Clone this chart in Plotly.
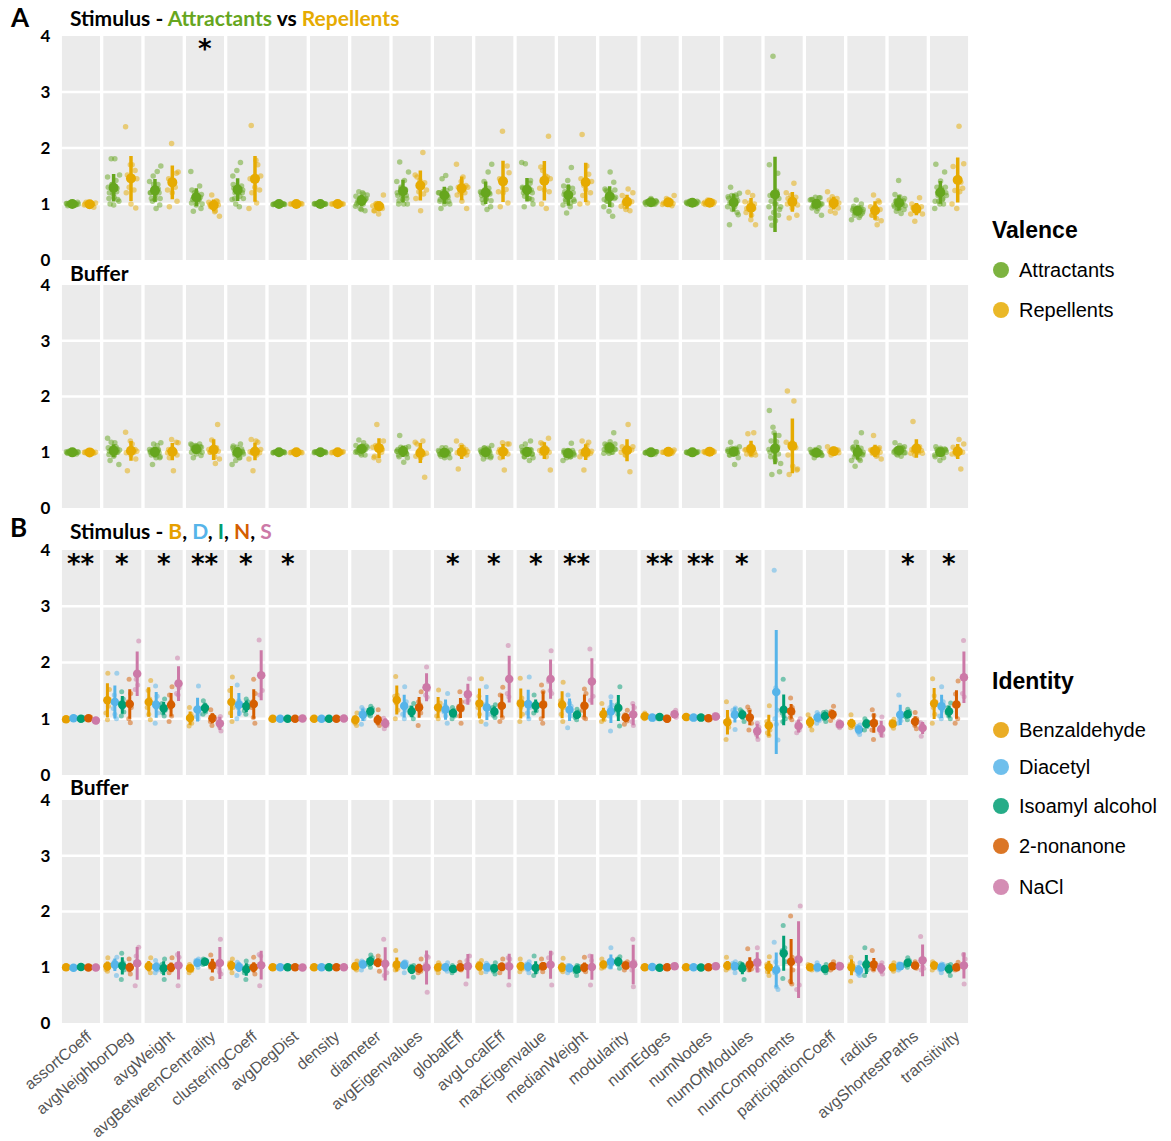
import numpy as np
import plotly.graph_objects as go

# ---------------------------------------------------------------------------
# Data: network metrics normalised to baseline, per animal
# ---------------------------------------------------------------------------
METRICS = [
    "assortCoeff", "avgNeighborDeg", "avgWeight", "avgBetweenCentrality",
    "clusteringCoeff", "avgDegDist", "density", "diameter", "avgEigenvalues",
    "globalEff", "avgLocalEff", "maxEigenvalue", "medianWeight", "modularity",
    "numEdges", "numNodes", "numOfModules", "numComponents",
    "participationCoeff", "radius", "avgShortestPaths", "transitivity",
]

IDENTITIES = ["Benzaldehyde", "Diacetyl", "Isoamyl alcohol", "2-nonanone", "NaCl"]
IDENTITY_COLORS = ["#E69F00", "#56B4E9", "#009E73", "#D55E00", "#CC79A7"]

VALENCES = ["Attractants", "Repellents"]
VALENCE_COLORS = ["#66A61E", "#E6AB02"]
VALENCE_MEMBERS = [[0, 1, 2], [3, 4]]

# Stimulus condition
stim_benzaldehyde = [
    [0.97, 0.98, 0.99, 1.0, 1.0, 1.01], [0.98, 1.1, 1.22, 1.35, 1.52, 1.81],
    [0.98, 1.08, 1.2, 1.35, 1.5, 1.68], [0.87, 0.92, 0.98, 1.02, 1.08, 1.2],
    [0.95, 1.1, 1.2, 1.3, 1.5, 1.74], [0.99, 1.0, 1.0, 1.0, 1.01, 1.0],
    [0.99, 1.0, 1.0, 1.01, 1.0, 1.0], [0.88, 0.92, 0.96, 1.0, 1.02, 1.1],
    [1.0, 1.15, 1.28, 1.4, 1.42, 1.75], [1.0, 1.05, 1.15, 1.22, 1.28, 1.51],
    [0.95, 1.08, 1.2, 1.28, 1.4, 1.71], [0.95, 1.08, 1.2, 1.3, 1.37, 1.72],
    [0.95, 1.08, 1.2, 1.3, 1.32, 1.65], [0.95, 0.98, 1.05, 1.1, 1.13, 1.27],
    [1.0, 1.02, 1.03, 1.05, 1.06, 1.1], [1.0, 1.01, 1.03, 1.04, 1.05, 1.05],
    [0.63, 0.85, 0.9, 0.95, 1.0, 1.3], [0.7, 0.75, 0.8, 0.85, 0.95, 1.23],
    [0.8, 0.87, 0.93, 0.97, 1.0, 1.07], [0.84, 0.86, 0.9, 0.92, 0.93, 1.07],
    [0.83, 0.87, 0.9, 0.92, 0.95, 0.99], [0.92, 1.08, 1.2, 1.3, 1.41, 1.71],
]
stim_diacetyl = [
    [0.99, 1.0, 1.01, 1.01, 1.02, 1.03], [1.0, 1.08, 1.18, 1.3, 1.42, 1.81],
    [0.92, 1.1, 1.2, 1.28, 1.4, 1.58], [1.0, 1.04, 1.08, 1.12, 1.16, 1.58],
    [1.0, 1.1, 1.2, 1.28, 1.32, 1.6], [1.0, 1.0, 0.99, 1.01, 1.0, 1.0],
    [1.0, 0.99, 1.0, 1.0, 1.01, 1.0], [0.9, 1.0, 1.06, 1.1, 1.16, 1.2],
    [1.0, 1.08, 1.15, 1.25, 1.3, 1.57], [0.92, 1.05, 1.12, 1.2, 1.24, 1.45],
    [0.9, 1.08, 1.18, 1.25, 1.22, 1.57], [1.0, 1.1, 1.2, 1.25, 1.27, 1.74],
    [0.84, 1.05, 1.15, 1.22, 1.28, 1.42], [0.78, 1.05, 1.12, 1.2, 1.24, 1.39],
    [0.99, 1.0, 1.02, 1.03, 1.04, 1.04], [1.0, 1.01, 1.02, 1.02, 1.03, 1.04],
    [0.81, 1.05, 1.1, 1.12, 1.15, 1.19], [0.62, 0.9, 1.0, 1.15, 1.55, 3.64],
    [0.92, 0.97, 1.0, 1.04, 1.08, 1.11], [0.72, 0.76, 0.8, 0.83, 0.86, 0.89],
    [0.92, 0.97, 1.0, 1.05, 1.06, 1.42], [1.0, 1.05, 1.15, 1.25, 1.3, 1.57],
]
stim_isoamyl = [
    [0.98, 0.99, 1.0, 1.0, 1.01, 1.02], [1.05, 1.12, 1.2, 1.28, 1.35, 1.48],
    [1.05, 1.1, 1.15, 1.2, 1.27, 1.35], [1.08, 1.12, 1.17, 1.2, 1.25, 1.32],
    [1.08, 1.14, 1.2, 1.25, 1.3, 1.35], [1.0, 0.99, 1.0, 1.01, 1.0, 1.0],
    [1.0, 1.0, 1.01, 0.99, 1.0, 1.0], [1.05, 1.08, 1.12, 1.14, 1.18, 1.22],
    [1.0, 1.06, 1.1, 1.15, 1.2, 1.27], [1.0, 1.05, 1.08, 1.12, 1.15, 1.2],
    [1.02, 1.06, 1.1, 1.15, 1.2, 1.25], [1.1, 1.14, 1.2, 1.24, 1.28, 1.42],
    [0.98, 1.02, 1.05, 1.08, 1.12, 1.17], [0.87, 1.08, 1.15, 1.22, 1.25, 1.57],
    [1.0, 1.01, 1.03, 1.04, 1.05, 1.05], [1.0, 1.01, 1.02, 1.02, 1.03, 1.04],
    [0.95, 1.02, 1.06, 1.1, 1.13, 1.16], [0.95, 1.0, 1.05, 1.1, 1.15, 1.7],
    [0.95, 1.0, 1.04, 1.08, 1.11, 1.12], [0.8, 0.86, 0.9, 0.94, 0.96, 1.0],
    [0.98, 1.03, 1.07, 1.1, 1.13, 1.17], [1.0, 1.05, 1.1, 1.15, 1.2, 1.28],
]
stim_nonanone = [
    [0.99, 1.0, 1.0, 1.01, 1.02, 1.02, 1.03], [0.93, 1.0, 1.2, 1.25, 1.3, 1.45, 1.7],
    [0.95, 1.05, 1.2, 1.25, 1.3, 1.42, 1.57], [0.88, 0.95, 0.98, 1.0, 1.03, 1.06, 1.16],
    [0.92, 1.02, 1.2, 1.25, 1.3, 1.45, 1.7], [0.99, 1.0, 1.0, 1.0, 1.01, 1.0, 1.0],
    [1.0, 0.99, 1.0, 1.0, 1.01, 1.0, 1.0], [0.88, 0.92, 0.96, 0.97, 0.98, 1.0, 1.16],
    [0.88, 1.1, 1.18, 1.22, 1.25, 1.3, 1.48], [0.92, 1.05, 1.16, 1.2, 1.22, 1.3, 1.48],
    [0.95, 1.02, 1.2, 1.22, 1.26, 1.42, 1.56], [0.92, 1.0, 1.22, 1.25, 1.28, 1.48, 1.6],
    [1.0, 1.02, 1.15, 1.2, 1.26, 1.45, 1.53], [0.9, 0.96, 1.0, 1.02, 1.04, 1.07, 1.15],
    [0.97, 0.99, 0.99, 1.0, 1.01, 1.01, 1.03], [0.99, 1.0, 1.0, 1.01, 1.02, 1.02, 1.03],
    [0.8, 0.92, 1.0, 1.02, 1.04, 1.15, 1.21], [0.98, 1.02, 1.1, 1.12, 1.15, 1.2, 1.37],
    [0.97, 1.02, 1.06, 1.07, 1.1, 1.13, 1.22], [0.63, 0.8, 0.9, 0.95, 0.95, 1.06, 1.16],
    [0.82, 0.88, 0.94, 0.95, 0.97, 1.0, 1.11], [0.92, 1.0, 1.22, 1.24, 1.28, 1.44, 1.67],
]
stim_nacl = [
    [0.94, 0.96, 0.98, 0.99], [1.52, 1.6, 1.7, 2.38],
    [1.42, 1.45, 1.55, 2.08], [0.78, 0.86, 0.99, 1.04],
    [1.42, 1.5, 1.78, 2.4], [1.0, 1.01, 1.0, 1.0],
    [1.0, 1.0, 1.01, 1.0], [0.82, 0.88, 0.97, 1.01],
    [1.38, 1.42, 1.52, 1.92], [1.3, 1.33, 1.4, 1.71],
    [1.39, 1.45, 1.68, 2.3], [1.45, 1.5, 1.66, 2.21],
    [1.33, 1.4, 1.68, 2.24], [0.88, 0.95, 1.2, 1.27],
    [1.02, 1.05, 1.1, 1.15], [1.01, 1.03, 1.05, 1.07],
    [0.63, 0.72, 0.85, 0.92], [0.75, 0.8, 0.93, 1.0],
    [0.84, 0.87, 0.93, 0.96], [0.7, 0.74, 0.8, 1.03],
    [0.69, 0.82, 0.9, 0.93], [1.39, 1.45, 1.72, 2.39],
]

# Buffer condition
buffer_benzaldehyde = [
    [0.98, 0.99, 1.0, 1.0, 1.01, 1.02], [0.93, 0.96, 1.0, 1.02, 1.04, 1.17],
    [0.9, 0.97, 1.0, 1.03, 1.05, 1.17], [0.9, 0.94, 0.97, 1.0, 1.02, 1.05],
    [0.9, 0.98, 1.02, 1.05, 1.08, 1.15], [0.99, 1.0, 1.0, 1.01, 1.0, 1.0],
    [1.0, 0.99, 1.0, 1.0, 1.01, 1.0], [0.95, 0.98, 1.0, 1.03, 1.05, 1.11],
    [0.95, 0.98, 1.0, 1.02, 1.05, 1.3], [0.9, 0.96, 1.0, 1.02, 1.04, 1.08],
    [0.9, 0.97, 1.01, 1.05, 1.07, 1.12], [0.92, 0.97, 1.0, 1.03, 1.05, 1.15],
    [0.92, 0.95, 0.97, 1.0, 1.0, 1.16], [0.98, 1.0, 1.03, 1.06, 1.08, 1.15],
    [0.98, 0.99, 1.0, 1.0, 1.01, 1.02], [0.99, 1.0, 1.0, 1.0, 1.01, 1.0],
    [0.95, 0.98, 1.0, 1.02, 1.05, 1.18], [0.85, 0.92, 0.97, 1.02, 1.05, 1.19],
    [0.95, 0.98, 1.0, 1.0, 1.02, 1.05], [0.75, 0.95, 1.0, 1.05, 1.07, 1.18],
    [0.93, 0.97, 0.99, 1.01, 1.02, 1.08], [0.95, 0.99, 1.02, 1.05, 1.07, 1.1],
]
buffer_diacetyl = [
    [0.97, 0.98, 0.99, 0.99, 1.0, 1.01], [0.85, 1.0, 1.05, 1.08, 1.1, 1.18],
    [0.9, 0.95, 0.99, 1.02, 1.05, 1.12], [1.0, 1.04, 1.07, 1.1, 1.12, 1.15],
    [0.85, 0.97, 1.0, 1.03, 1.06, 1.09], [1.0, 1.0, 0.99, 1.0, 1.01, 1.0],
    [1.0, 1.0, 1.0, 0.99, 1.0, 1.01], [0.95, 1.02, 1.05, 1.08, 1.09, 1.11],
    [0.9, 1.02, 1.05, 1.08, 1.09, 1.1], [0.93, 0.97, 0.99, 1.01, 1.02, 1.08],
    [0.92, 0.96, 0.99, 1.02, 1.04, 1.07], [0.9, 0.96, 1.0, 1.04, 1.06, 1.1],
    [0.9, 0.95, 0.97, 1.0, 1.03, 1.03], [1.0, 1.02, 1.05, 1.08, 1.1, 1.35],
    [0.99, 1.0, 1.0, 1.01, 1.01, 1.02], [0.99, 0.99, 1.0, 1.0, 1.01, 1.01],
    [0.9, 0.98, 1.02, 1.05, 1.07, 1.1], [0.6, 0.65, 0.9, 1.0, 1.1, 1.45],
    [0.95, 0.97, 0.99, 1.01, 1.0, 1.08], [0.85, 0.88, 0.92, 0.97, 1.0, 1.08],
    [0.95, 0.99, 1.02, 1.04, 1.06, 1.06], [0.9, 0.96, 1.0, 1.03, 1.05, 1.06],
]
buffer_isoamyl = [
    [0.99, 1.0, 1.0, 1.01, 1.01, 1.02], [0.78, 0.95, 1.02, 1.06, 1.08, 1.25],
    [0.78, 0.92, 0.98, 1.02, 1.05, 1.15], [1.05, 1.07, 1.09, 1.11, 1.13, 1.15],
    [0.78, 0.9, 0.95, 1.0, 1.02, 1.11], [1.0, 0.99, 1.0, 1.0, 1.0, 1.01],
    [1.0, 1.0, 1.01, 1.0, 0.99, 1.0], [1.0, 1.05, 1.08, 1.12, 1.17, 1.22],
    [0.82, 0.92, 0.97, 1.0, 1.02, 1.03], [0.9, 0.94, 0.97, 0.98, 1.0, 1.03],
    [0.88, 0.93, 0.97, 1.0, 1.02, 1.08], [0.85, 0.92, 0.97, 1.0, 1.0, 1.2],
    [0.85, 0.92, 0.95, 0.99, 1.02, 1.03], [0.98, 1.05, 1.1, 1.13, 1.15, 1.19],
    [0.97, 0.98, 0.99, 0.99, 1.0, 1.01], [0.98, 0.99, 0.99, 1.0, 1.0, 1.01],
    [0.78, 0.95, 1.0, 1.03, 1.05, 1.07], [0.8, 1.1, 1.2, 1.3, 1.35, 1.75],
    [0.9, 0.94, 0.96, 0.98, 0.99, 1.05], [0.85, 0.95, 1.0, 1.05, 1.1, 1.35],
    [1.0, 1.03, 1.06, 1.1, 1.12, 1.17], [0.85, 0.92, 0.97, 1.0, 1.03, 1.05],
]
buffer_nonanone = [
    [0.98, 0.99, 1.0, 1.0, 1.0, 1.0, 1.01], [0.88, 0.95, 0.99, 1.0, 1.01, 1.02, 1.15],
    [0.9, 0.95, 0.98, 0.99, 1.0, 1.01, 1.17], [0.8, 1.0, 1.02, 1.04, 1.05, 1.08, 1.22],
    [0.88, 0.95, 0.99, 0.99, 1.0, 1.01, 1.18], [1.0, 0.99, 1.0, 1.01, 1.0, 1.0, 1.0],
    [1.0, 1.0, 0.99, 1.0, 1.01, 1.0, 1.0], [0.93, 1.05, 1.07, 1.09, 1.1, 1.12, 1.2],
    [0.9, 0.93, 0.96, 0.96, 0.98, 0.99, 1.15], [0.95, 0.97, 0.99, 0.99, 1.0, 1.01, 1.09],
    [0.9, 0.97, 1.0, 1.0, 1.02, 1.03, 1.15], [0.92, 0.98, 1.0, 1.01, 1.03, 1.05, 1.15],
    [0.92, 0.95, 0.97, 0.98, 1.0, 1.01, 1.18], [0.95, 1.0, 1.02, 1.03, 1.04, 1.07, 1.1],
    [0.98, 0.99, 1.0, 1.0, 1.0, 1.01, 1.02], [0.99, 1.0, 1.0, 1.01, 1.0, 1.0, 1.01],
    [0.95, 0.97, 1.0, 1.0, 1.04, 1.06, 1.33], [0.7, 0.75, 0.95, 1.08, 1.12, 1.18, 1.92],
    [0.95, 0.99, 1.01, 1.02, 1.03, 1.04, 1.1], [0.95, 0.98, 1.0, 1.02, 1.04, 1.06, 1.3],
    [0.98, 1.0, 1.02, 1.03, 1.04, 1.05, 1.1], [0.95, 0.97, 0.99, 1.0, 1.0, 1.01, 1.09],
]
buffer_nacl = [
    [0.98, 0.99, 1.0, 1.02], [0.67, 1.05, 1.2, 1.36],
    [0.67, 1.05, 1.18, 1.23], [0.88, 0.92, 1.0, 1.5],
    [0.67, 1.05, 1.2, 1.23], [1.0, 1.0, 0.99, 1.0],
    [1.0, 0.99, 1.0, 1.01], [0.85, 0.9, 1.0, 1.5],
    [0.55, 1.05, 1.18, 1.2], [0.7, 1.05, 1.12, 1.2],
    [0.68, 1.05, 1.15, 1.17], [0.68, 1.08, 1.17, 1.25],
    [0.68, 1.02, 1.12, 1.2], [0.65, 0.95, 1.1, 1.5],
    [1.0, 1.01, 1.03, 1.04], [1.0, 1.01, 1.03, 1.04],
    [0.95, 1.0, 1.05, 1.35], [0.6, 0.68, 1.17, 2.1],
    [0.98, 1.0, 1.04, 1.06], [0.88, 0.93, 1.03, 1.08],
    [0.95, 0.98, 1.02, 1.55], [0.7, 1.05, 1.15, 1.23],
]

STIM = [stim_benzaldehyde, stim_diacetyl, stim_isoamyl, stim_nonanone, stim_nacl]
BUFFER = [buffer_benzaldehyde, buffer_diacetyl, buffer_isoamyl, buffer_nonanone, buffer_nacl]

# Significance marks above the stimulus panels
sig_valence = ["", "", "", "*", "", "", "", "", "", "", "",
               "", "", "", "", "", "", "", "", "", "", ""]
sig_identity = ["**", "*", "*", "**", "*", "*", "", "", "", "*", "*",
                "*", "**", "", "**", "**", "*", "", "", "", "*", "*"]

# ---------------------------------------------------------------------------
# Geometry (pixels)
# ---------------------------------------------------------------------------
W, H = 1171, 1141
PLOT_LEFT, PLOT_RIGHT = 60.3, 969.7
ROWS_PX = [(36, 260), (285, 508), (550, 775), (800, 1023)]
N_COL = len(METRICS)
COL_GAP = 0.04  # white gap on each side of a metric column, in column units
VALENCE_POS = [0.29, 0.71]
IDENTITY_POS = [0.14, 0.32, 0.50, 0.68, 0.86]


def fx(px):
    return px / W


def fy(px):
    return 1 - px / H


def jitter(k, c, spread):
    # low-discrepancy horizontal offsets so overlapping points stay visible
    return (((k * 0.618034 + c * 0.377 + 0.13) % 1.0) - 0.5) * spread


fig = go.Figure()
shapes = []
annotations = []


def add_panel(row, groups, colors, positions, spread, pt_size, mean_size, bar_w):
    s = "" if row == 0 else str(row + 1)
    xa, ya = "x" + s, "y" + s
    for gi, (vals, col, pos) in enumerate(zip(groups, colors, positions)):
        px_, py_ = [], []
        means, sds, mx = [], [], []
        for c in range(N_COL):
            pts = vals[c]
            for k, v in enumerate(pts):
                px_.append(c + pos + jitter(k, c + gi, spread))
                py_.append(v)
            means.append(float(np.mean(pts)))
            sds.append(float(np.std(pts, ddof=1)))
            mx.append(c + pos)
        fig.add_trace(go.Scatter(
            x=px_, y=py_, xaxis=xa, yaxis=ya, mode="markers",
            marker=dict(size=pt_size, color=col, opacity=0.5, line=dict(width=0)),
            hoverinfo="skip", showlegend=False))
        fig.add_trace(go.Scatter(
            x=mx, y=means, xaxis=xa, yaxis=ya, mode="markers",
            marker=dict(size=mean_size, color=col, line=dict(width=0)),
            error_y=dict(type="data", array=sds, visible=True, color=col,
                         thickness=bar_w, width=0),
            hoverinfo="skip", showlegend=False))


# Panel A: attractants vs repellents (pooled identities)
for row, cond in [(0, STIM), (1, BUFFER)]:
    groups = []
    for members in VALENCE_MEMBERS:
        groups.append([sum((list(cond[m][c]) for m in members), []) for c in range(N_COL)])
    add_panel(row, groups, VALENCE_COLORS, VALENCE_POS, 0.30, 5.5, 10, 3.5)

# Panel B: individual identities
for row, cond in [(2, STIM), (3, BUFFER)]:
    add_panel(row, cond, IDENTITY_COLORS, IDENTITY_POS, 0.10, 5, 8.5, 3)

# Axes, column backgrounds and grid lines
layout_axes = {}
for row, (top, bottom) in enumerate(ROWS_PX):
    s = "" if row == 0 else str(row + 1)
    last = row == len(ROWS_PX) - 1
    layout_axes["xaxis" + s] = dict(
        domain=[fx(PLOT_LEFT), fx(PLOT_RIGHT)], range=[0, N_COL], anchor="y" + s,
        showgrid=False, zeroline=False, showline=False, ticks="",
        showticklabels=last, automargin=False,
        tickvals=[c + 0.66 for c in range(N_COL)], ticktext=METRICS,
        tickangle=-40, tickfont=dict(family="Liberation Sans", size=16, color="#555555"),
        fixedrange=True)
    layout_axes["yaxis" + s] = dict(
        domain=[fy(bottom), fy(top)], range=[0, 4], anchor="x" + s,
        showgrid=False, zeroline=False, showline=False, ticks="", automargin=False,
        tickvals=[0, 1, 2, 3, 4], ticktext=["0", "1", "2", "3", "4"],
        tickfont=dict(family="Lato", size=17, color="black", weight="bold"),
        ticklabelstandoff=9, fixedrange=True)
    for c in range(N_COL):
        shapes.append(dict(type="rect", xref="x" + s, yref="y" + s + " domain",
                           x0=c + COL_GAP, x1=c + 1 - COL_GAP, y0=0, y1=1,
                           fillcolor="#EBEBEB", line=dict(width=0), layer="below"))
    for g in (1, 2, 3):
        shapes.append(dict(type="line", xref="x" + s + " domain", yref="y" + s,
                           x0=0, x1=1, y0=g, y1=g,
                           line=dict(color="white", width=2.6), layer="below"))

# Significance stars
for row, sig in [(0, sig_valence), (2, sig_identity)]:
    s = "" if row == 0 else str(row + 1)
    for c, mark in enumerate(sig):
        if mark:
            annotations.append(dict(
                x=c + 0.5, y=3.76, xref="x" + s, yref="y" + s, text="<b>" + mark + "</b>",
                showarrow=False, xanchor="center", yanchor="middle",
                font=dict(family="DejaVu Sans", size=26, color="black")))


def span(txt, col):
    return "<span style='color:%s'>%s</span>" % (col, txt)


titles = [
    (8, 17, "<b>A</b>", 26),
    (68, 18, "<b>Stimulus - " + span("Attractants", VALENCE_COLORS[0]) + " vs "
     + span("Repellents", VALENCE_COLORS[1]) + "</b>", 21),
    (68, 273, "<b>Buffer</b>", 21),
    (8, 527, "<b>B</b>", 26),
    (68, 530, "<b>Stimulus - " + span("B", IDENTITY_COLORS[0]) + ", "
     + span("D", IDENTITY_COLORS[1]) + ", " + span("I", IDENTITY_COLORS[2]) + ", "
     + span("N", IDENTITY_COLORS[3]) + ", " + span("S", IDENTITY_COLORS[4]) + "</b>", 21),
    (68, 786, "<b>Buffer</b>", 21),
]
for x, y, txt, size in titles:
    annotations.append(dict(x=fx(x), y=fy(y), xref="paper", yref="paper", text=txt,
                            showarrow=False, xanchor="left", yanchor="middle",
                            font=dict(family="Lato", size=size, color="black")))


# Legends
def add_legend(title, title_y, labels, colors, item_ys):
    annotations.append(dict(x=fx(990), y=fy(title_y), xref="paper", yref="paper",
                            text="<b>" + title + "</b>", showarrow=False,
                            xanchor="left", yanchor="middle",
                            font=dict(family="Liberation Sans", size=23, color="black")))
    for lab, col, y in zip(labels, colors, item_ys):
        r = 8
        shapes.append(dict(type="circle", xref="paper", yref="paper",
                           x0=fx(1001 - r), x1=fx(1001 + r), y0=fy(y + r), y1=fy(y - r),
                           fillcolor=col, opacity=0.85, line=dict(width=0)))
        annotations.append(dict(x=fx(1017), y=fy(y), xref="paper", yref="paper",
                                text=lab, showarrow=False, xanchor="left",
                                yanchor="middle",
                                font=dict(family="Liberation Sans", size=20,
                                          color="black")))


add_legend("Valence", 230, VALENCES, VALENCE_COLORS, [270, 310])
add_legend("Identity", 681, IDENTITIES, IDENTITY_COLORS, [730, 767, 806, 846, 887])

fig.update_layout(
    width=W, height=H, margin=dict(l=0, r=0, t=0, b=0, autoexpand=False),
    paper_bgcolor="white", plot_bgcolor="white",
    showlegend=False, hovermode=False,
    shapes=shapes, annotations=annotations,
    **layout_axes,
)

fig.write_html("out.html")
